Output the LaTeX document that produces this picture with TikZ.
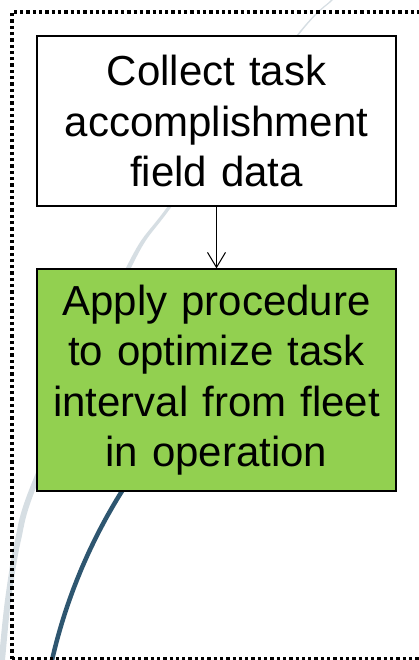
\documentclass[tikz,border=0pt]{standalone}
\usepackage{fontspec}
\setmainfont{Liberation Sans}
\usetikzlibrary{arrows.meta}
\definecolor{greenfill}{HTML}{92D050}
\definecolor{arcdark}{HTML}{2E5670}
\definecolor{arclight}{HTML}{D6DEE3}
\begin{document}
\begin{tikzpicture}[x=1pt,y=-1pt,
  stepbox/.style={draw=black, line width=1.3pt, minimum width=359pt,
    text width=345pt, align=center, inner sep=0pt,
    font=\fontsize{42}{50.4}\selectfont},
  flowarrow/.style={-{Straight Barb[length=15pt,width=18pt]}, line width=1pt},
  frame/.style={line width=3.3pt, dash pattern=on 3.3pt off 3pt}]
\useasboundingbox (0,0) rectangle (419,660);
\begin{scope}
  \clip (0,0) rectangle (419,660);
  % light sweeping crescent in the background
  \fill[arclight]
    plot[smooth] coordinates {(343.5,-12) (333,0) (298,36) (172,206) (130.5,269)
                              (39,480) (21,540) (11,600) (5,660) (3,680)}
    -- plot[smooth] coordinates {(0,680) (-1,660) (5,600) (15,540) (33,480)
                              (125.5,269) (168,206) (296,36) (331,0) (341,-12)}
    -- cycle;
  % dark circular arc rising from the bottom edge
  \draw[arcdark, line width=4.5pt]
    plot[domain=186:226, samples=60, smooth]
      ({584.8+546.5*cos(\x)}, {781.7+546.5*sin(\x)});
  % dotted outer frame
  \draw[frame] (12,659) -- (12,12) -- (445,12);
  \draw[frame] (12,659) -- (445,659);
\end{scope}
\node[stepbox, fill=white, minimum height=170pt] (collect) at (216.5,121)
  {Collect task\\accomplishment\\field data};
\node[stepbox, fill=greenfill, minimum height=222pt] (apply) at (216.5,380)
  {Apply procedure\\to optimize task\\interval from fleet\\in operation};
\draw[flowarrow] (collect) -- (apply);
\end{tikzpicture}
\end{document}
